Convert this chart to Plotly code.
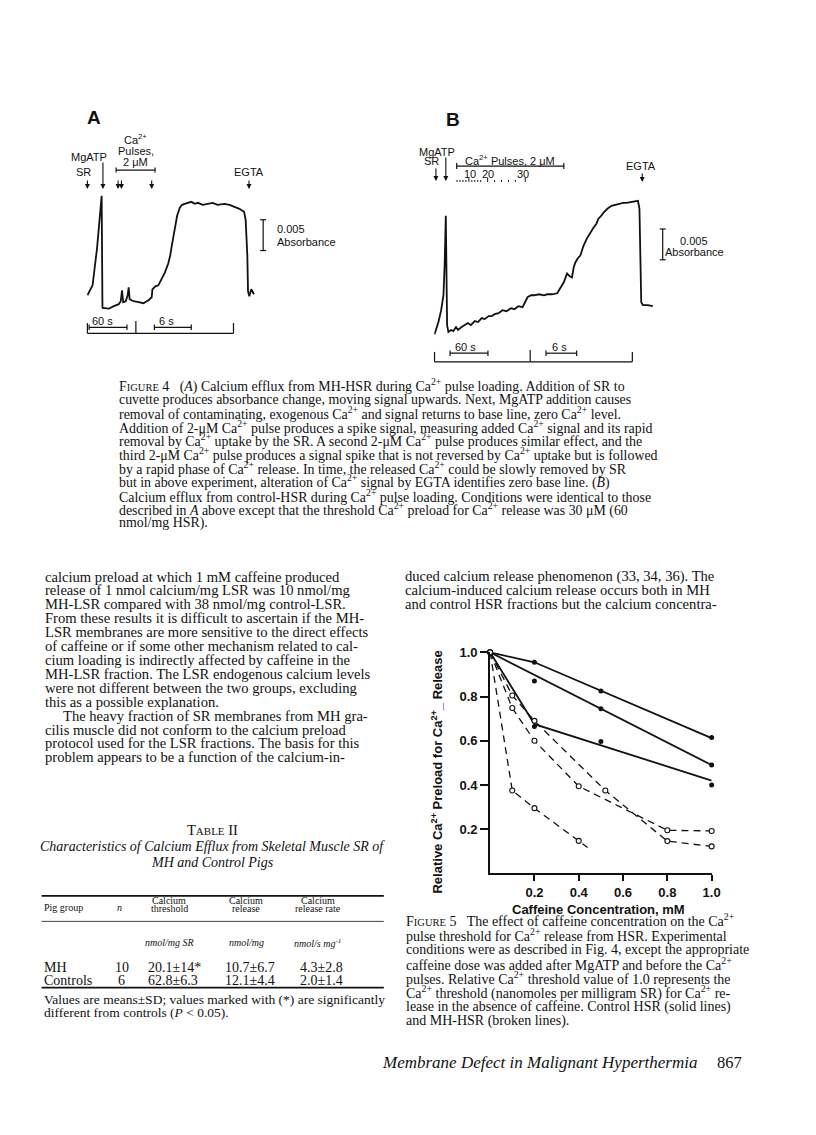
import plotly.graph_objects as go

W, H = 816, 1135
OFF = 8  # default body margin of the page that holds the figure

def px(x):
    return (x - OFF) / W

def py(y):
    return 1 - (y - OFF) / H

# ---------------- Figure 5 data (caffeine, relative Ca2+ threshold) ----------------
caffeine_ticks = [0.2, 0.4, 0.6, 0.8, 1.0]
caffeine_tick_labels = ["0.2", "0.4", "0.6", "0.8", "1.0"]
threshold_ticks = [0.2, 0.4, 0.6, 0.8, 1.0]
threshold_tick_labels = ["0.2", "0.4", "0.6", "0.8", "1.0"]

# Control HSR (solid lines, filled dots)
ctrl1_x = [0, 0.2, 0.5, 1.0]
ctrl1_y = [1.0, 0.955, 0.825, 0.615]
ctrl1_fit_x = [0, 0.2, 1.0]
ctrl1_fit_y = [1.0, 0.955, 0.612]

ctrl2_x = [0, 0.2, 0.5, 1.0]
ctrl2_y = [1.0, 0.87, 0.745, 0.49]
ctrl2_fit_x = [0, 1.0]
ctrl2_fit_y = [1.0, 0.49]

ctrl3_x = [0, 0.2, 0.5, 1.0]
ctrl3_y = [1.0, 0.665, 0.597, 0.40]
ctrl3_fit_x = [0, 0.2, 1.0]
ctrl3_fit_y = [1.0, 0.675, 0.42]

# MH-HSR (broken lines, open circles)
mh1_x = [0, 0.1, 0.2, 0.4]
mh1_y = [1.0, 0.375, 0.295, 0.147]
mh1_line_x = [0, 0.1, 0.2, 0.44]
mh1_line_y = [1.0, 0.375, 0.295, 0.117]

mh2_x = [0, 0.1, 0.2, 0.4, 0.8, 1.0]
mh2_y = [1.0, 0.748, 0.60, 0.394, 0.195, 0.192]

mh3_x = [0, 0.1, 0.2, 0.52, 0.8, 1.0]
mh3_y = [1.0, 0.805, 0.69, 0.375, 0.146, 0.122]

# ---------------- Figure 4 traces (arbitrary time units, signal above baseline) ----------------
A_time = [0.3, 4.3, 5.5, 10, 14.7, 15.5, 16, 18, 22, 27, 32, 34, 35.3, 36.5, 39, 41, 42, 43,
          47, 52, 57, 62, 65.3, 66, 69, 72, 75, 78.7, 82, 84, 86, 88.7, 91, 93.7, 96, 98.7,
          102, 105.3, 109, 112, 117, 122, 127, 132, 138.7, 144, 148.7, 154, 158.7, 160.3,
          162, 162.7, 164, 166, 168.7]
A_signal = [13, 22, 23, 60, 113, 1, 0, 0, -0.5, 2, 4, 7, 18, 6, 7, 13, 21, 9,
            7, 6, 5, 8, 11, 19, 22, 23, 29, 36, 45, 53, 65, 80, 93, 101, 104, 105,
            106, 107, 105, 106, 104, 105, 106, 104, 105, 104, 102, 100, 97, 89,
            53, 17, 12, 19, 14]

B_time = [0.3, 4.3, 7, 9.3, 10.5, 11.7, 13, 14.3, 17, 19.3, 22, 24, 27.7, 31, 34, 37, 41, 44.3,
          48, 51, 55, 58, 61, 65, 69, 73, 77.7, 81, 85, 89.3, 92, 94.3, 98, 101, 106, 111,
          114.3, 119, 124.3, 127, 131, 134.3, 137, 139.3, 141, 142.7, 145, 147.7, 151, 154.3,
          157, 161, 164, 166, 169, 171, 175, 179.3, 183, 187, 191, 194.3, 199, 203, 206,
          207.5, 208.5, 209.3, 211, 216, 221]
B_signal = [0.7, 13.3, 25, 40, 70, 120, 10, 3, 5, 4, 8, 5, 8, 10, 12, 10, 14, 13,
            17, 16, 19, 19, 21, 22, 25, 24, 27, 26, 29, 28, 33, 38, 40, 40, 41, 40,
            41, 41, 42, 46, 53, 62, 59, 58, 68, 73, 77, 80, 90, 97, 102, 108, 112, 117,
            120, 123, 127, 130, 131, 132, 133, 133, 134, 135, 135, 127, 80, 33, 30, 30, 29]

SANS = "Liberation Sans, Arial, sans-serif"
SERIF = "Liberation Serif, Times New Roman, serif"
BLACK = "#111111"

fig = go.Figure()

# ---- Figure 5 traces ----
for fx, fy in [(ctrl1_fit_x, ctrl1_fit_y), (ctrl2_fit_x, ctrl2_fit_y), (ctrl3_fit_x, ctrl3_fit_y)]:
    fig.add_trace(go.Scatter(x=fx, y=fy, mode="lines", line=dict(color=BLACK, width=1.8),
                             cliponaxis=False, showlegend=False, hoverinfo="skip"))
for dx, dy in [(ctrl1_x, ctrl1_y), (ctrl2_x, ctrl2_y), (ctrl3_x, ctrl3_y)]:
    fig.add_trace(go.Scatter(x=dx, y=dy, mode="markers",
                             marker=dict(color=BLACK, size=5), cliponaxis=False, showlegend=False))

fig.add_trace(go.Scatter(x=mh1_line_x, y=mh1_line_y, mode="lines",
                         line=dict(color=BLACK, width=1.3, dash="7px,5px"),
                         cliponaxis=False, showlegend=False))
fig.add_trace(go.Scatter(x=mh1_x, y=mh1_y, mode="markers",
                         marker=dict(color="white", size=5, symbol="circle",
                                     line=dict(color=BLACK, width=1.1)),
                         cliponaxis=False, showlegend=False))
for mx, my in [(mh2_x, mh2_y), (mh3_x, mh3_y)]:
    fig.add_trace(go.Scatter(x=mx, y=my, mode="lines+markers",
                             line=dict(color=BLACK, width=1.3, dash="7px,5px"),
                             marker=dict(color="white", size=5, symbol="circle",
                                         line=dict(color=BLACK, width=1.1)),
                             cliponaxis=False, showlegend=False))

# ---- Figure 4 traces ----
fig.add_trace(go.Scatter(x=A_time, y=A_signal, mode="lines", xaxis="x2", yaxis="y2",
                         line=dict(color=BLACK, width=1.8), showlegend=False, cliponaxis=False))
fig.add_trace(go.Scatter(x=B_time, y=B_signal, mode="lines", xaxis="x3", yaxis="y3",
                         line=dict(color=BLACK, width=1.8), showlegend=False, cliponaxis=False))

axis_common = dict(showgrid=False, zeroline=False, showline=True, linecolor=BLACK, linewidth=2,
                   ticks="outside", tickcolor=BLACK, tickwidth=1.5,
                   tickfont=dict(family=SANS, size=13, color=BLACK, weight="bold"))

fig.update_layout(
    width=W, height=H, autosize=False,
    margin=dict(l=0, r=0, t=0, b=0),
    paper_bgcolor="white", plot_bgcolor="rgba(0,0,0,0)",
    showlegend=False,
    xaxis=dict(domain=[px(495.5), px(719.5)], range=[0, 1.0],
               tickvals=caffeine_ticks, ticktext=caffeine_tick_labels, ticklen=6,
               anchor="y", **axis_common),
    yaxis=dict(domain=[py(871.7), py(649.3)], range=[0, 1.0],
               tickvals=threshold_ticks, ticktext=threshold_tick_labels, ticklen=8,
               anchor="x", **axis_common),
    xaxis2=dict(domain=[px(88), px(258)], range=[0, 170], visible=False, anchor="y2"),
    yaxis2=dict(domain=[py(313), py(183)], range=[-10, 120], visible=False, anchor="x2"),
    xaxis3=dict(domain=[px(439), px(664)], range=[0, 225], visible=False, anchor="y3"),
    yaxis3=dict(domain=[py(340), py(190)], range=[-10, 140], visible=False, anchor="x3"),
)

ann = []
shapes = []

def text(x, y, s, size=13, family=SERIF, anchor="left", bold=False, angle=0, color=BLACK):
    ann.append(dict(x=px(x), y=py(y), xref="paper", yref="paper", text=s, showarrow=False,
                    xanchor=anchor, yanchor="middle", textangle=angle,
                    font=dict(family=family, size=size, color=color,
                              weight="bold" if bold else "normal")))

def line(x0, y0, x1, y1, w=1.2):
    shapes.append(dict(type="line", xref="paper", yref="paper", x0=px(x0), y0=py(y0),
                       x1=px(x1), y1=py(y1), line=dict(color=BLACK, width=w)))

def arrow(x, y0, y1):
    ann.append(dict(x=px(x), y=py(y1), xref="paper", yref="paper", text="", showarrow=True,
                    ax=0, ay=-(y1 - y0), arrowhead=2, arrowsize=0.9, arrowwidth=1.1,
                    arrowcolor=BLACK))

# ---- Figure 5 axis titles ----
text(605, 908, "Caffeine Concentration, mM", size=13, family=SANS, anchor="center", bold=True)
text(442, 770, "Relative Ca<sup>2+</sup> Preload for Ca<sup>2+</sup>_ Release", size=13,
     family=SANS, anchor="center", bold=True, angle=-90)

# ---- Figure 4 panel A annotations ----
text(95, 111, "A", size=19, family=SANS, anchor="center", bold=True)
text(137, 133, "Ca<sup>2+</sup>", size=11, family=SANS, anchor="center")
text(137, 145, "Pulses,", size=11, family=SANS, anchor="center")
text(137, 156, "2 μM", size=11, family=SANS, anchor="center")
text(90, 151, "MgATP", size=11, family=SANS, anchor="center")
text(84, 166, "SR", size=11, family=SANS, anchor="center")
text(252, 166, "EGTA", size=11, family=SANS, anchor="center")
arrow(88.3, 173, 183)
arrow(104, 155, 183)
arrow(119.3, 173, 183)
arrow(122.7, 173, 183)
arrow(153.3, 173, 183)
arrow(251.7, 173, 183)
line(117.3, 164, 156.7, 164)
line(117.3, 161.5, 117.3, 166.5)
line(156.7, 161.5, 156.7, 166.5)
# scale bar
line(266, 214, 266, 245)
line(263, 214, 269, 214)
line(263, 245, 269, 245)
text(278, 223, "0.005", size=11, family=SANS)
text(278, 236, "Absorbance", size=11, family=SANS)
# time bars
text(104, 316, "60 s", size=11, family=SANS, anchor="center")
text(168, 316, "6 s", size=11, family=SANS, anchor="center")
line(90, 322.3, 128.3, 322.3)
line(90, 319.5, 90, 325)
line(128.3, 319.5, 128.3, 325)
line(156, 322.3, 193.3, 322.3)
line(156, 319.5, 156, 325)
line(193.3, 319.5, 193.3, 325)
line(88.3, 328.3, 236, 328.3)
line(88.3, 318, 88.3, 328.3)
line(137.3, 316, 137.3, 328.3)
line(236, 318, 236, 328.3)

# ---- Figure 4 panel B annotations ----
text(458, 113, "B", size=19, family=SANS, anchor="center", bold=True)
text(442, 146, "MgATP", size=11, family=SANS, anchor="center")
text(436, 155, "SR", size=11, family=SANS, anchor="center")
arrow(440.7, 161, 175)
arrow(450.7, 150, 175)
text(516, 154, "Ca<sup>2+</sup> Pulses, 2 μM", size=11, family=SANS, anchor="center")
line(461.7, 160, 570, 160)
line(461.7, 157, 461.7, 163)
line(570, 157, 570, 163)
text(475, 167.5, "10", size=11, family=SANS, anchor="center")
text(493.3, 167.5, "20", size=11, family=SANS, anchor="center")
text(528.3, 167.5, "30", size=11, family=SANS, anchor="center")
for xx in [462, 465, 468, 471, 477, 480, 483, 486, 500, 507, 514, 521]:
    line(xx, 174, xx, 176, w=1)
for xx in [474, 493, 531]:
    line(xx, 172, xx, 176, w=1)
text(648.3, 160, "EGTA", size=11, family=SANS, anchor="center")
arrow(649.3, 166, 176)
line(670, 223.3, 670, 254.3)
line(667, 223.3, 673, 223.3)
line(667, 254.3, 673, 254.3)
text(702, 235, "0.005", size=11, family=SANS, anchor="center")
text(702, 246, "Absorbance", size=11, family=SANS, anchor="center")
text(471, 342.5, "60 s", size=11, family=SANS, anchor="center")
text(566, 342.5, "6 s", size=11, family=SANS, anchor="center")
line(455, 348.3, 493.3, 348.3)
line(455, 345.5, 455, 351)
line(493.3, 345.5, 493.3, 351)
line(552, 348.3, 583, 348.3)
line(552, 345.5, 552, 351)
line(583, 345.5, 583, 351)
line(439.3, 357, 639.3, 357)
line(439.3, 347, 439.3, 357)
line(536, 345, 536, 357)
line(639.3, 347, 639.3, 357)

# ---- Figure 4 caption ----
fig4_caption = [
    "F<span style='font-size:10.5px'>IGURE</span> 4   (<i>A</i>) Calcium efflux from MH-HSR during Ca<sup>2+</sup> pulse loading. Addition of SR to",
    "cuvette produces absorbance change, moving signal upwards. Next, MgATP addition causes",
    "removal of contaminating, exogenous Ca<sup>2+</sup> and signal returns to base line, zero Ca<sup>2+</sup> level.",
    "Addition of 2-μM Ca<sup>2+</sup> pulse produces a spike signal, measuring added Ca<sup>2+</sup> signal and its rapid",
    "removal by Ca<sup>2+</sup> uptake by the SR. A second 2-μM Ca<sup>2+</sup> pulse produces similar effect, and the",
    "third 2-μM Ca<sup>2+</sup> pulse produces a signal spike that is not reversed by Ca<sup>2+</sup> uptake but is followed",
    "by a rapid phase of Ca<sup>2+</sup> release. In time, the released Ca<sup>2+</sup> could be slowly removed by SR",
    "but in above experiment, alteration of Ca<sup>2+</sup> signal by EGTA identifies zero base line. (<i>B</i>)",
    "Calcium efflux from control-HSR during Ca<sup>2+</sup> pulse loading. Conditions were identical to those",
    "described in <i>A</i> above except that the threshold Ca<sup>2+</sup> preload for Ca<sup>2+</sup> release was 30 μM (60",
    "nmol/mg HSR).",
]
for i, s in enumerate(fig4_caption):
    text(118, 380.5 + 13.9 * i, s, size=13.9)

# ---- Left column body text ----
left_col = [
    "calcium preload at which 1 mM caffeine produced",
    "release of 1 nmol calcium/mg LSR was 10 nmol/mg",
    "MH-LSR compared with 38 nmol/mg control-LSR.",
    "From these results it is difficult to ascertain if the MH-",
    "LSR membranes are more sensitive to the direct effects",
    "of caffeine or if some other mechanism related to cal-",
    "cium loading is indirectly affected by caffeine in the",
    "MH-LSR fraction. The LSR endogenous calcium levels",
    "were not different between the two groups, excluding",
    "this as a possible explanation.",
    "     The heavy fraction of SR membranes from MH gra-",
    "cilis muscle did not conform to the calcium preload",
    "protocol used for the LSR fractions. The basis for this",
    "problem appears to be a function of the calcium-in-",
]
for i, s in enumerate(left_col):
    text(43, 573 + 14.0 * i, s, size=14.6)

right_col = [
    "duced calcium release phenomenon (33, 34, 36). The",
    "calcium-induced calcium release occurs both in MH",
    "and control HSR fractions but the calcium concentra-",
]
for i, s in enumerate(right_col):
    text(407, 573 + 14.0 * i, s, size=14.6)

# ---- Table II ----
text(215, 828, "T<span style='font-size:11px'>ABLE</span> II", size=14.5, anchor="center")
text(215, 845, "<i>Characteristics of Calcium Efflux from Skeletal Muscle SR of</i>", size=14, anchor="center")
text(215, 861, "<i>MH and Control Pigs</i>", size=14, anchor="center")
line(42, 894.3, 388, 894.3, w=1.6)
line(42, 920, 388, 920, w=0.8)
line(42, 986.7, 388, 986.7, w=1.6)
text(42, 906.5, "Pig group", size=10)
text(121, 906.5, "<i>n</i>", size=10, anchor="center")
text(171, 899, "Calcium", size=10, anchor="center")
text(171, 907.5, "threshold", size=10, anchor="center")
text(249, 899, "Calcium", size=10, anchor="center")
text(249, 907.5, "release", size=10, anchor="center")
text(321, 899, "Calcium", size=10, anchor="center")
text(321, 907.5, "release rate", size=10, anchor="center")
text(171, 941.7, "<i>nmol/mg SR</i>", size=10, anchor="center")
text(249, 941.7, "<i>nmol/mg</i>", size=10, anchor="center")
text(321, 941.7, "<i>nmol/s mg<sup>-1</sup></i>", size=10, anchor="center")

table_groups = ["MH", "Controls"]
table_n = ["10", "6"]
table_threshold = ["20.1±14*", "62.8±6.3"]
table_release = ["10.7±6.7", "12.1±4.4"]
table_rate = ["4.3±2.8", "2.0±1.4"]
for i in range(2):
    yy = 966.5 + 12.8 * i
    text(42, yy, table_groups[i], size=14)
    text(123, yy, table_n[i], size=14, anchor="center")
    text(148, yy, table_threshold[i], size=14)
    text(225, yy, table_release[i], size=14)
    text(301, yy, table_rate[i], size=14)
text(42, 999, "Values are means±SD; values marked with (*) are significantly", size=13.5)
text(42, 1012, "different from controls (<i>P</i> < 0.05).", size=13.5)

# ---- Figure 5 caption ----
fig5_caption = [
    "F<span style='font-size:10.5px'>IGURE</span> 5   The effect of caffeine concentration on the Ca<sup>2+</sup>",
    "pulse threshold for Ca<sup>2+</sup> release from HSR. Experimental",
    "conditions were as described in Fig. 4, except the appropriate",
    "caffeine dose was added after MgATP and before the Ca<sup>2+</sup>",
    "pulses. Relative Ca<sup>2+</sup> threshold value of 1.0 represents the",
    "Ca<sup>2+</sup> threshold (nanomoles per milligram SR) for Ca<sup>2+</sup> re-",
    "lease in the absence of caffeine. Control HSR (solid lines)",
    "and MH-HSR (broken lines).",
]
for i, s in enumerate(fig5_caption):
    text(408, 919 + 14.5 * i, s, size=14)

# ---- Footer ----
text(384, 1062, "<i>Membrane Defect in Malignant Hyperthermia</i>", size=17)
text(752, 1062, "867", size=16.5, anchor="right")

fig.update_layout(annotations=ann, shapes=shapes)
fig.write_html("out.html")
